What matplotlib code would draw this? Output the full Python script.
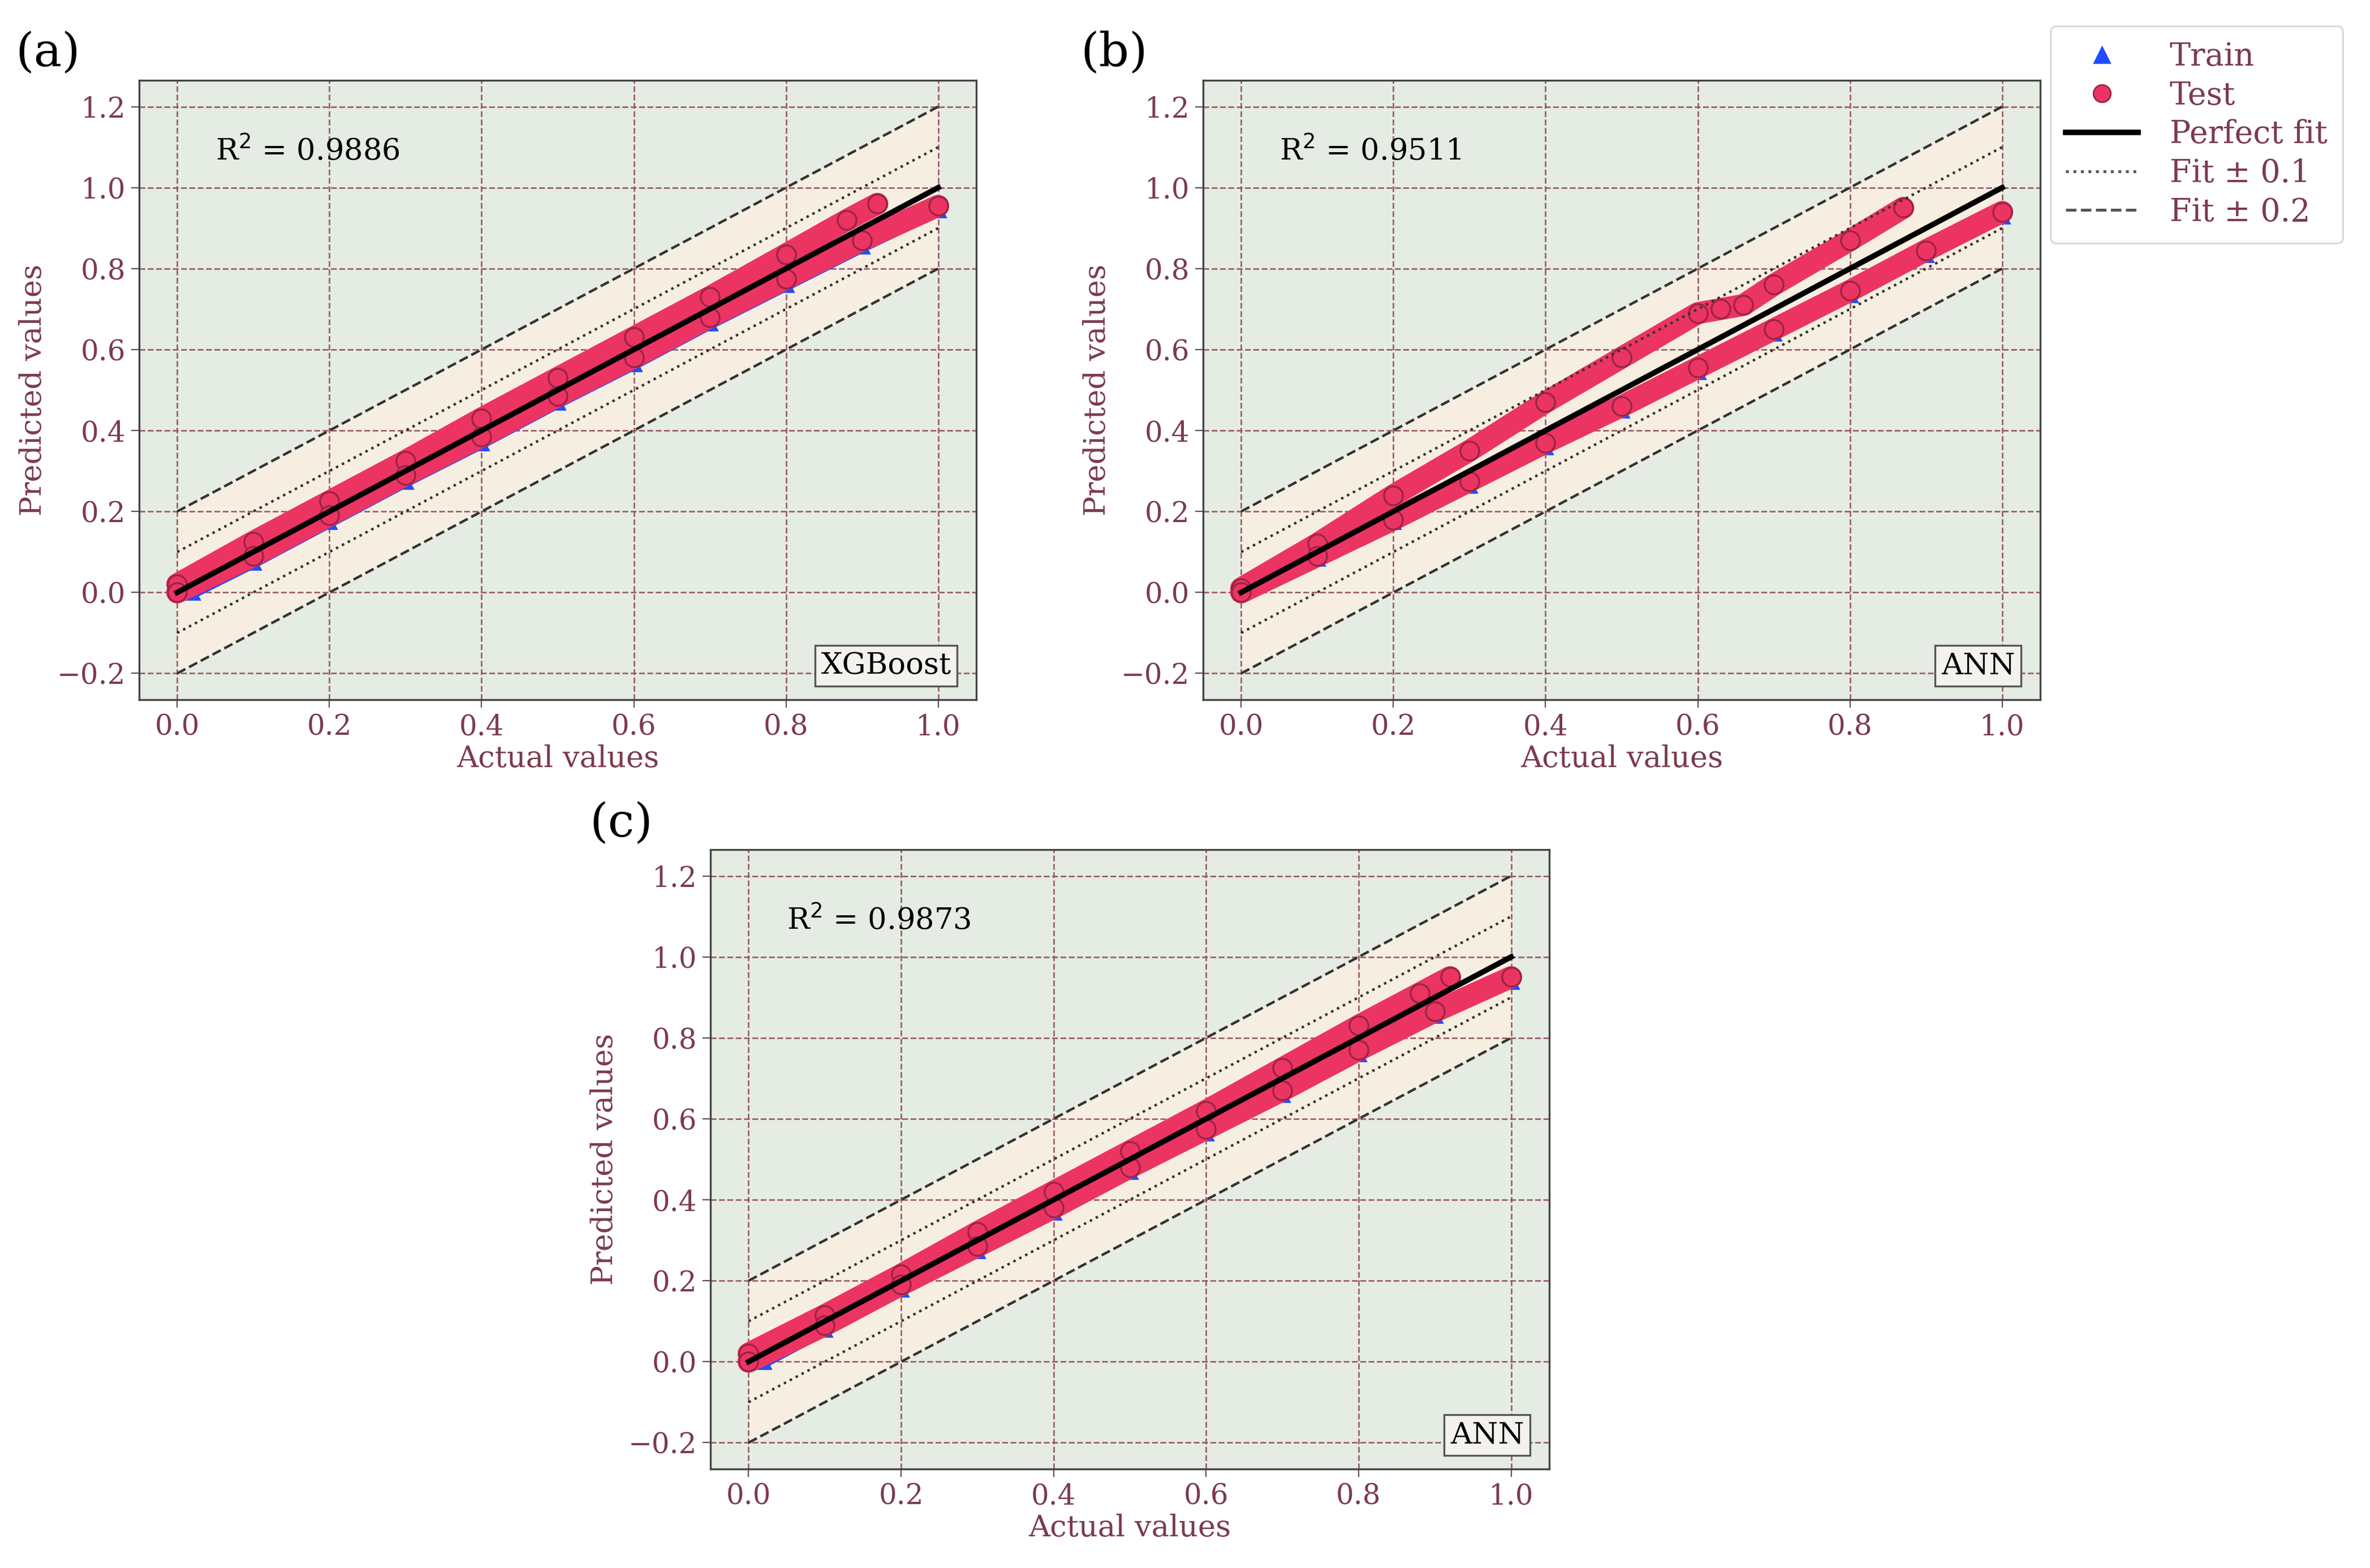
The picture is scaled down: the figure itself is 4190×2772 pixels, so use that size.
import matplotlib
matplotlib.use("Agg")
import matplotlib.pyplot as plt
from matplotlib.lines import Line2D
import numpy as np

plt.rcParams["font.family"] = "DejaVu Serif"

# ---------------- data ----------------
panel_labels = ["(a)", "(b)", "(c)"]
model_names = ["XGBoost", "ANN", "ANN"]
r2_values = [0.9886, 0.9511, 0.9873]
ticks_x = [0.0, 0.2, 0.4, 0.6, 0.8, 1.0]
ticks_y = [-0.2, 0.0, 0.2, 0.4, 0.6, 0.8, 1.0, 1.2]

# panel a (XGBoost)
a_test_hi_x = [0.0, 0.1, 0.2, 0.3, 0.4, 0.5, 0.6, 0.7, 0.8, 0.88, 0.92]
a_test_hi_y = [0.02, 0.125, 0.225, 0.325, 0.43, 0.53, 0.63, 0.73, 0.835, 0.92, 0.96]
a_test_lo_x = [0.0, 0.1, 0.2, 0.3, 0.4, 0.5, 0.6, 0.7, 0.8, 0.9, 1.0]
a_test_lo_y = [0.0, 0.09, 0.19, 0.29, 0.385, 0.485, 0.58, 0.68, 0.775, 0.87, 0.955]
a_train_x = [0.02, 0.1, 0.2, 0.3, 0.4, 0.5, 0.6, 0.7, 0.8, 0.9, 1.0]
a_train_y = [0.0, 0.075, 0.175, 0.275, 0.37, 0.47, 0.565, 0.665, 0.76, 0.855, 0.945]

# panel b (ANN)
b_test_hi_x = [0.0, 0.1, 0.2, 0.3, 0.4, 0.5, 0.6, 0.63, 0.66, 0.7, 0.8, 0.87]
b_test_hi_y = [0.01, 0.12, 0.24, 0.35, 0.47, 0.58, 0.69, 0.70, 0.71, 0.76, 0.87, 0.95]
b_test_lo_x = [0.0, 0.1, 0.2, 0.3, 0.4, 0.5, 0.6, 0.7, 0.8, 0.9, 1.0]
b_test_lo_y = [0.0, 0.09, 0.18, 0.275, 0.37, 0.46, 0.555, 0.65, 0.745, 0.845, 0.94]
b_train_x = [0.0, 0.1, 0.2, 0.3, 0.4, 0.5, 0.6, 0.7, 0.8, 0.9, 1.0]
b_train_y = [0.0, 0.085, 0.175, 0.265, 0.36, 0.45, 0.545, 0.64, 0.735, 0.835, 0.93]

# panel c (ANN)
c_test_hi_x = [0.0, 0.1, 0.2, 0.3, 0.4, 0.5, 0.6, 0.7, 0.8, 0.88, 0.92]
c_test_hi_y = [0.02, 0.115, 0.215, 0.32, 0.42, 0.52, 0.62, 0.725, 0.83, 0.91, 0.95]
c_test_lo_x = [0.0, 0.1, 0.2, 0.3, 0.4, 0.5, 0.6, 0.7, 0.8, 0.9, 1.0]
c_test_lo_y = [0.0, 0.09, 0.19, 0.285, 0.38, 0.48, 0.575, 0.67, 0.77, 0.865, 0.95]
c_train_x = [0.02, 0.1, 0.2, 0.3, 0.4, 0.5, 0.6, 0.7, 0.8, 0.9, 1.0]
c_train_y = [0.0, 0.08, 0.18, 0.275, 0.37, 0.47, 0.565, 0.66, 0.76, 0.855, 0.94]

panels = [
    (a_test_hi_x, a_test_hi_y, a_test_lo_x, a_test_lo_y, a_train_x, a_train_y),
    (b_test_hi_x, b_test_hi_y, b_test_lo_x, b_test_lo_y, b_train_x, b_train_y),
    (c_test_hi_x, c_test_hi_y, c_test_lo_x, c_test_lo_y, c_train_x, c_train_y),
]

# ---------------- style ----------------
W, H = 4190, 2772
DPI = 200
maroon = "#7b3b4c"
test_col = "#ec3462"
test_edge = "#9a2446"
train_col = "#1f4dff"
bg = "#e5ece3"
band = "#f6efe1"
grid_col = "#94505e"

fig = plt.figure(figsize=(W / DPI, H / DPI), dpi=DPI)
boxes = [(246, 142, 1726, 1237), (2127, 142, 3607, 1237), (1256, 1502, 2739, 2597)]

for i, (box, data) in enumerate(zip(boxes, panels)):
    x0, y0, x1, y1 = box
    ax = fig.add_axes([x0 / W, 1 - y1 / H, (x1 - x0) / W, (y1 - y0) / H])
    ax.set_facecolor(bg)
    ax.set_xlim(-0.05, 1.05)
    ax.set_ylim(-0.265, 1.265)
    line = np.array([0.0, 1.0])
    ax.fill_between(line, line - 0.2, line + 0.2, color=band, zorder=0.5, lw=0)
    ax.grid(True, color=grid_col, ls="--", lw=1.0, alpha=0.9, zorder=0.6)
    ax.set_axisbelow(True)

    thx, thy, tlx, tly, trx, try_ = data
    ax.plot(trx, try_, "-^", color=train_col, ms=9, lw=8, zorder=2)
    ax.plot(thx, thy, "-", color=test_col, lw=14, zorder=3, solid_capstyle="round")
    ax.plot(tlx, tly, "-", color=test_col, lw=14, zorder=3, solid_capstyle="round")
    ax.plot(thx, thy, "o", color=test_col, mec=test_edge, mew=1.2, ms=12, zorder=3.1)
    ax.plot(tlx, tly, "o", color=test_col, mec=test_edge, mew=1.2, ms=12, zorder=3.1)

    ax.plot(line, line, color="black", lw=3.5, zorder=4)
    for d in (0.1, -0.1):
        ax.plot(line, line + d, color="#333333", ls=":", lw=1.6, zorder=4)
    for d in (0.2, -0.2):
        ax.plot(line, line + d, color="#333333", ls="--", lw=1.6, zorder=4)

    ax.set_xticks(ticks_x)
    ax.set_yticks(ticks_y)
    ax.set_xticklabels([f"{t:.1f}" for t in ticks_x])
    ax.set_yticklabels([f"{t:.1f}".replace("-", "\u2212") for t in ticks_y])
    ax.tick_params(colors="#555555", labelsize=18, length=5)
    for lab in ax.get_xticklabels() + ax.get_yticklabels():
        lab.set_color(maroon)
    for s in ax.spines.values():
        s.set_color("#444444")
        s.set_linewidth(1.2)
    ax.set_xlabel("Actual values", color=maroon, fontsize=19, labelpad=2)
    ax.set_ylabel("Predicted values", color=maroon, fontsize=19, labelpad=6)

    ax.text(0.05, 1.09, f"R$^2$ = {r2_values[i]:.4f}", fontsize=19, color="black",
            va="center", zorder=6)
    ax.text(0.97, 0.055, model_names[i], transform=ax.transAxes, ha="right", va="center",
            fontsize=19, color="black", zorder=6,
            bbox=dict(boxstyle="square,pad=0.2", fc="#f4f2ec", ec="#555555", lw=1.2))

label_pos = [(27, 94), (1910, 94), (1042, 1456)]
for lab, (px, py) in zip(panel_labels, label_pos):
    fig.text(px / W, 1 - py / H, lab, fontsize=30, color="black", va="center", ha="left")

handles = [
    Line2D([], [], ls="none", marker="^", color=train_col, ms=10),
    Line2D([], [], ls="none", marker="o", color=test_col, mec=test_edge, ms=11),
    Line2D([], [], color="black", lw=3.5),
    Line2D([], [], color="#555555", ls=":", lw=1.8),
    Line2D([], [], color="#555555", ls="--", lw=1.8),
]
labels = ["Train", "Test", "Perfect fit", "Fit \u00b1 0.1", "Fit \u00b1 0.2"]
leg = fig.legend(handles, labels, loc="upper right", bbox_to_anchor=(4170 / W, 1 - 18 / H),
                 fontsize=20, frameon=True, handlelength=2.3, labelspacing=0.25,
                 borderpad=0.5, handletextpad=1.0)
for t in leg.get_texts():
    t.set_color(maroon)
leg.get_frame().set_edgecolor("#cccccc")

fig.savefig("out.png", dpi=DPI, facecolor="white")
